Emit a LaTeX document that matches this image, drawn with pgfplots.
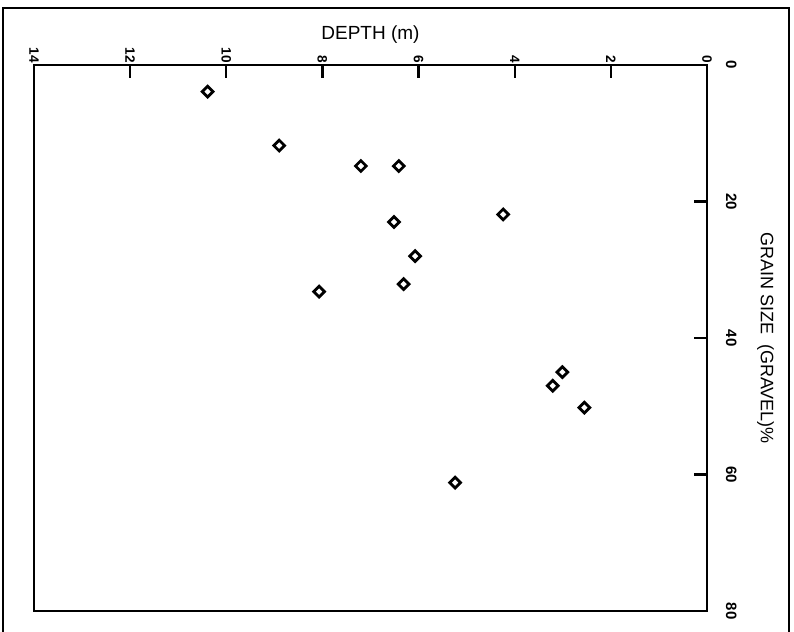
\documentclass[border=0pt]{standalone}
\usepackage{fontspec}
\setmainfont{Liberation Sans}
\usepackage{pgfplots}
\pgfplotsset{compat=1.18}
\usetikzlibrary{calc}

% depth (m) vs gravel fraction (%)
\pgfplotstableread{
depth grain
10.39 3.9
8.90 11.8
7.20 14.8
6.41 14.8
4.24 21.9
6.51 23.0
6.07 28.0
6.31 32.1
8.07 33.2
3.01 45.0
3.21 47.0
2.55 50.2
5.24 61.2
}\gravel

\begin{document}
\begin{tikzpicture}
\begin{axis}[
  name=ax,
  scale only axis, width=336.5pt, height=273pt,
  xmin=0, xmax=14, x dir=reverse,
  ymin=0, ymax=80, y dir=reverse,
  xtick={0,2,...,14}, ytick={0,20,...,80},
  xtick pos=right, xticklabel pos=right,
  ytick pos=right, yticklabel pos=right,
  tick align=inside, major tick length=6.5pt,
  tick style={line width=1.1pt, black},
  axis line style={line width=1.3pt},
  /pgf/number format/assume math mode=true,
  xticklabel style={rotate=-90, anchor=east, inner sep=1pt,
    font=\bfseries\fontsize{6.8}{7}\selectfont},
  yticklabel style={xshift=6pt, rotate=-90, anchor=south,
    font=\bfseries\fontsize{7.5}{8}\selectfont},
  xlabel={DEPTH (m)},
  ylabel={GRAIN SIZE\ \ (GRAVEL)\%},
  every axis x label/.style={at={(axis description cs:0.5,1)},
    anchor=base, yshift=13pt, font=\fontsize{9.5}{11}\selectfont},
  every axis y label/.style={at={(axis description cs:1.064,0.5)},
    rotate=-90, anchor=south, font=\fontsize{9}{11}\selectfont},
  clip=false,
]
\addplot[only marks, mark=square, mark size=1.9pt,
  mark options={rotate=45, line width=1.4pt, fill=white}]
  table[x=depth, y=grain] {\gravel};
\end{axis}
\pgfresetboundingbox
\path[use as bounding box] ($(ax.south west)+(-17pt,-10.5pt)$) rectangle ($(ax.north east)+(43.5pt,32.5pt)$);
\draw[line width=1pt] ($(ax.south west)+(-15.5pt,-20pt)$) |- ($(ax.north east)+(41pt,28.5pt)$) -- ++(0,-330pt);
\end{tikzpicture}
\end{document}
